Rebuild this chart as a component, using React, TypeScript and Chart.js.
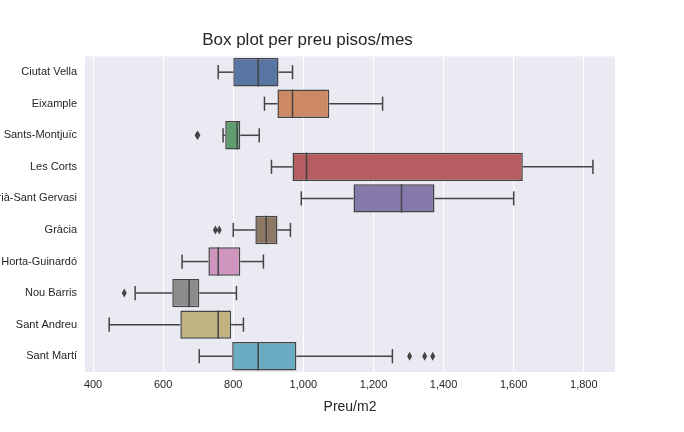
import React, { useEffect, useRef } from 'react';
import { Chart, registerables } from 'chart.js';

Chart.register(...registerables);

const districts = ['Ciutat Vella', 'Eixample', 'Sants-Montjuïc', 'Les Corts', 'Sarrià-Sant Gervasi', 'Gràcia', 'Horta-Guinardó', 'Nou Barris', 'Sant Andreu', 'Sant Martí'];
const whiskerLo = [757, 889, 771, 909, 994, 800, 654, 520, 446, 703];
const q1 = [800, 926, 777, 969, 1143, 863, 729, 626, 649, 797];
const median = [871, 969, 811, 1009, 1280, 894, 757, 674, 757, 871];
const q3 = [929, 1074, 820, 1626, 1374, 926, 820, 703, 794, 980];
const whiskerHi = [969, 1226, 874, 1826, 1600, 963, 886, 809, 829, 1254];
const outliers = [[], [], [697, 699], [], [], [749, 760], [], [489], [], [1303, 1346, 1369]];
const colors = ['#5975a4', '#cc8963', '#5f9e6e', '#b55d60', '#857aab', '#8d7866', '#d095bf', '#8c8c8c', '#c1b37f', '#6bacc2'];
const xTicks = [400, 600, 800, 1000, 1200, 1400, 1600, 1800];

const EDGE = '#444444';

const boxPlugin = {
  id: 'boxParts',
  afterDatasetsDraw(chart: any) {
    const { ctx, scales } = chart;
    const x = scales.x, y = scales.y;
    const meta = chart.getDatasetMeta(0);
    ctx.save();
    ctx.strokeStyle = EDGE;
    ctx.lineWidth = 1.5;
    districts.forEach((_, i) => {
      const bar = meta.data[i];
      const cy = y.getPixelForValue(i);
      const h = bar.height / 2;
      const line = (x1: number, y1: number, x2: number, y2: number) => {
        ctx.beginPath(); ctx.moveTo(x1, y1); ctx.lineTo(x2, y2); ctx.stroke();
      };
      const pl = x.getPixelForValue(whiskerLo[i]), pq1 = x.getPixelForValue(q1[i]);
      const pq3 = x.getPixelForValue(q3[i]), ph = x.getPixelForValue(whiskerHi[i]);
      line(pl, cy, pq1, cy);
      line(pq3, cy, ph, cy);
      line(pl, cy - h / 2, pl, cy + h / 2);
      line(ph, cy - h / 2, ph, cy + h / 2);
      const pm = x.getPixelForValue(median[i]);
      line(pm, cy - h, pm, cy + h);
      ctx.fillStyle = EDGE;
      outliers[i].forEach(v => {
        const px = x.getPixelForValue(v);
        ctx.beginPath();
        ctx.moveTo(px, cy - 4.5); ctx.lineTo(px + 2.5, cy); ctx.lineTo(px, cy + 4.5); ctx.lineTo(px - 2.5, cy);
        ctx.closePath(); ctx.fill();
      });
    });
    ctx.restore();
  },
};

const bgPlugin = {
  id: 'areaBg',
  beforeDraw(chart: any) {
    const { ctx, chartArea: a } = chart;
    ctx.save();
    ctx.fillStyle = '#eaeaf2';
    ctx.fillRect(a.left, a.top, a.right - a.left, a.bottom - a.top);
    ctx.restore();
  },
};

function BoxChart() {
  const canvasRef = useRef<HTMLCanvasElement>(null);
  const chartRef = useRef<Chart | null>(null);

  useEffect(() => {
    if (!canvasRef.current) return;
    chartRef.current = new Chart(canvasRef.current, {
      type: 'bar',
      data: {
        labels: districts,
        datasets: [{
          data: districts.map((_, i) => [q1[i], q3[i]]),
          backgroundColor: colors,
          borderColor: EDGE,
          borderWidth: 1.5,
          borderSkipped: false,
          categoryPercentage: 1,
          barPercentage: 0.9,
        }],
      },
      plugins: [bgPlugin, boxPlugin],
      options: {
        indexAxis: 'y',
        responsive: false,
        animation: false,
        layout: { padding: { top: 10, right: 69, bottom: 12, left: 0 } },
        plugins: {
          legend: { display: false },
          tooltip: { enabled: false },
          title: {
            display: true,
            text: 'Box plot per preu pisos/mes',
            color: '#262626',
            font: { family: 'Liberation Sans', size: 17, weight: 'normal' },
            padding: { top: 20, bottom: 6 },
          },
        },
        scales: {
          x: {
            min: 377, max: 1889,
            afterBuildTicks: (s: any) => { s.ticks = xTicks.map(v => ({ value: v })); },
            grid: { color: '#ffffff', lineWidth: 1, drawTicks: false },
            border: { display: false },
            ticks: { color: '#262626', font: { family: 'Liberation Sans', size: 11 }, padding: 6 },
            title: { display: true, text: 'Preu/m2', color: '#262626', font: { family: 'Liberation Sans', size: 14 }, padding: { top: 2 } },
          },
          y: {
            afterFit: (s: any) => { s.width = 85; },
            grid: { display: false, drawTicks: false },
            border: { display: false },
            ticks: { color: '#262626', font: { family: 'Liberation Sans', size: 11 }, padding: 8 },
          },
        },
      },
    });
    return () => { chartRef.current?.destroy(); chartRef.current = null; };
  }, []);

  return <canvas ref={canvasRef} width={684} height={432} />;
}

export default function App() {
  useEffect(() => { document.body.style.margin = '0'; }, []);
  return <div style={{ width: 684, height: 432, background: '#fff' }}><BoxChart /></div>;
}
